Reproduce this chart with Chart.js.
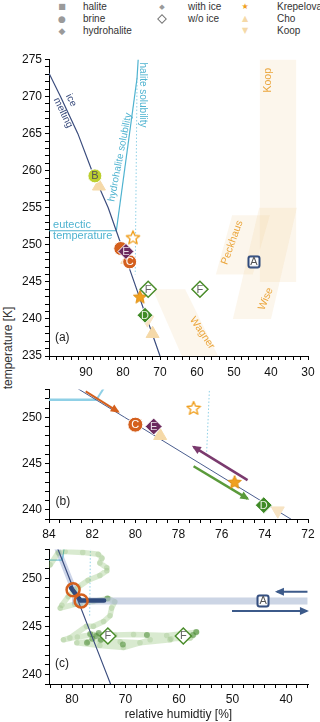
<!DOCTYPE html>
<html>
<head>
<meta charset="utf-8">
<script src="https://cdn.jsdelivr.net/npm/chart.js@4.4.0/dist/chart.umd.min.js"></script>
<style>
  body { margin: 0; background: #fff; }
  #wrap { position: relative; width: 320px; height: 722px; font-family: 'Liberation Sans', Arial, sans-serif; color: #333; overflow: hidden; }
  canvas { position: absolute; left: 0; }
  .lg { position: absolute; font-size: 10px; line-height: 12px; white-space: nowrap; transform: translateY(-50%); }
  .sym { position: absolute; width: 14px; text-align: center; line-height: 12px; transform: translate(-50%, -50%); font-family: 'DejaVu Sans', sans-serif; }
  .dia { position: absolute; width: 5px; height: 5px; border: 1.2px solid #777; background: #fff; transform: translate(-50%, -50%) rotate(45deg); }
  #ytitle { position: absolute; left: 8px; top: 348px; transform: translate(-50%, -50%) rotate(-90deg); font-size: 12px; white-space: nowrap; color: #333; }
</style>
</head>
<body>
<div id="wrap">
  <span class="sym" style="left:62px;top:7px;font-size:8px;color:#9a9a9a">■</span>
  <span class="lg" style="left:83px;top:7px">halite</span>
  <span class="sym" style="left:62px;top:19px;font-size:9px;color:#9a9a9a">●</span>
  <span class="lg" style="left:83px;top:19px">brine</span>
  <span class="sym" style="left:62px;top:31px;font-size:9px;color:#9a9a9a">◆</span>
  <span class="lg" style="left:83px;top:31px">hydrohalite</span>
  <span class="sym" style="left:162px;top:7px;font-size:7px;color:#9a9a9a">◆</span>
  <span class="lg" style="left:188px;top:7px">with ice</span>
  <div class="dia" style="left:162px;top:19px"></div>
  <span class="lg" style="left:188px;top:19px">w/o ice</span>
  <span class="sym" style="left:245px;top:7px;font-size:8px;color:#f0a020">★</span>
  <span class="lg" style="left:277px;top:7px">Krepelova</span>
  <span class="sym" style="left:245px;top:19px;font-size:8px;color:#f5d9a8">▲</span>
  <span class="lg" style="left:277px;top:19px">Cho</span>
  <span class="sym" style="left:245px;top:31px;font-size:8px;color:#f5d9a8">▼</span>
  <span class="lg" style="left:277px;top:31px">Koop</span>
  <div id="ytitle">temperature [K]</div>
  <canvas id="ca" width="320" height="330" style="top:50px"></canvas>
  <canvas id="cb" width="320" height="160" style="top:380px"></canvas>
  <canvas id="cc" width="320" height="182" style="top:540px"></canvas>
</div>
<script>
// phase lines (relative humidity %, temperature K)
const iceRH = [100, 96.9, 92.2, 88.4, 84.0, 80.5, 77.0, 73.5, 70.0];
const iceT = [273.15, 270, 265, 260, 255, 250, 245, 240, 235];
const hydroRH = [81.8, 76.2];
const hydroT = [251.9, 272.5];
const haliteRH = [76.2, 75.9];
const haliteT = [272.5, 275];
const haliteMetaRH = [76.2, 76.7];
const haliteMetaT = [272.5, 246];
const eutRH = [100, 81.8];
const eutT = [251.9, 251.9];

// literature regions
const koopRH = [43, 33.2, 33.2, 43, 43];
const koopT = [275, 275, 245, 245, 275];
const wiseRH = [50.3, 40, 33, 43.2, 50.3];
const wiseT = [240, 240, 255, 255, 240];
const peckRH = [54.9, 44.9, 40.3, 50.5, 54.9];
const peckT = [246, 246, 254, 254, 246];
const wagnerRH = [72, 63.2, 54.3, 64.1, 72];
const wagnerT = [244, 244, 235, 235, 244];

// literature points
const choRH = [86.5, 78.85, 72.0];
const choT = [257.9, 248, 238];
const koopPtRH = [73.4];
const koopPtT = [239.9];
const krepRH = [75.4];
const krepT = [243];
const krepNoIceRH = [77.3];
const krepNoIceT = [251];

// panel (a) experiments
const aB_RH = [87.6], aB_T = [259.3];
const aC_RH = [80.6, 78.2], aC_T = [249.5, 247.7];
const aE_RH = [79.2], aE_T = [249.1];
const aD_RH = [74.05], aD_T = [240.5];
const aF_RH = [73.2, 59.2], aF_T = [244, 244];
const aA_RH = [44.6], aA_T = [247.7];

// panel (b) experiments
const bC_RH = [80], bC_T = [249.2];
const bE_RH = [79.15], bE_T = [249];
const bD_RH = [74.05], bD_T = [240.5];
const bArrowC_RH = [82.3, 80.8], bArrowC_T = [252.8, 250.6];
const bArrowE_RH = [74.8, 77.3], bArrowE_T = [243.2, 246.8];
const bArrowD_RH = [77.3, 74.8], bArrowD_T = [244.7, 241.2];

// panel (c) trajectories
const trajRH = [84.1, 82.6, 81.3, 78.0, 75.1, 74.4, 74.8, 73.5, 73.5, 74.8, 77.0, 78.8, 80.7, 81.9, 82.2, 79.5, 76.0, 73.2, 72.0, 72.6, 72.9, 74.1, 76.0, 77.3, 80.4, 81.6, 79.0, 76.0, 72.0, 68.5, 62.3, 56.7, 57.9, 61.5, 65.4, 70.4, 74.8, 79.1, 77.0, 74.8, 71.0, 67.3, 61.7, 58.6];
const trajT = [251.4, 252.65, 252.8, 252.7, 252.5, 252.1, 251.6, 251.1, 250.8, 250.3, 249.8, 249.1, 248.1, 247.2, 246.9, 247.3, 247.6, 247.9, 247.55, 246.9, 246.1, 245.5, 245.0, 245.0, 243.8, 243.6, 243.9, 244.15, 244.1, 244.15, 244.05, 244.4, 243.8, 243.7, 243.6, 242.8, 243.0, 243.3, 243.4, 243.5, 243.4, 243.3, 243.6, 244.05];
const trajDenseRH = [75.5, 76.2, 75.0, 74.6, 76.6, 77.2, 57.4, 56.8, 73.4, 66.0, 70.5];
const trajDenseT = [244.0, 243.7, 244.3, 243.6, 244.2, 243.3, 244.1, 244.4, 247.9, 244.1, 243.1];
const cBandRH = [80, 36], cBandT = [247.65, 247.65];
const cNavyRH = [80.2, 78.4, 74], cNavyT = [249, 247.7, 247.7];
const cIceBandRH = [82.8, 78.5], cIceBandT = [253.2, 247.2];
const cRingRH = [79.8, 78.3], cRingT = [248.8, 247.65];
const cF_RH = [73.3, 59.2], cF_T = [244, 244];
const cA_RH = [44.3], cA_T = [247.65];
const cArrowL_RH = [36, 41.7], cArrowL_T = [248.6, 248.6];
const cArrowR_RH = [50.1, 36.1], cArrowR_T = [246.6, 246.6];

const FONT = "'Liberation Sans', Arial, sans-serif";
Chart.defaults.font.family = FONT;
Chart.defaults.color = '#111';

const NAVY = '#3b4d7e', CYAN = '#4fb3d0', ORANGE = '#d4601e', PURPLE = '#6b2a5e',
      GREEN = '#3f8a27', GOLD = '#f0a020', PALE = '#f5d9a8', REGION = 'rgba(240,200,140,0.17)', RTEXT = '#eba63d';

const pts = (xs, ys) => xs.map((v, i) => ({ x: v, y: ys[i] }));

function line(xs, ys, color, width, extra) {
  return Object.assign({ data: pts(xs, ys), showLine: true, borderColor: color, borderWidth: width,
    pointRadius: 0, fill: false, tension: 0 }, extra || {});
}
function region(xs, ys) {
  return { data: pts(xs, ys), showLine: true, borderWidth: 0, borderColor: 'rgba(0,0,0,0)',
    backgroundColor: REGION, fill: 'shape', pointRadius: 0 };
}
function mark(xs, ys, extra) {
  return Object.assign({ data: pts(xs, ys), showLine: false, pointRadius: 7, pointBorderWidth: 1,
    pointBorderColor: '#fff' }, extra);
}

function starImg(size, fill, stroke, lw) {
  const c = document.createElement('canvas');
  c.width = c.height = size;
  const g = c.getContext('2d');
  const cx = size / 2, cy = size / 2 + 0.6, R = size / 2 - 1, r = R * 0.45;
  g.beginPath();
  for (let i = 0; i < 10; i++) {
    const a = -Math.PI / 2 + i * Math.PI / 5, rr = i % 2 ? r : R;
    g.lineTo(cx + rr * Math.cos(a), cy + rr * Math.sin(a));
  }
  g.closePath();
  g.fillStyle = fill; g.fill();
  g.strokeStyle = stroke; g.lineWidth = lw; g.lineJoin = 'round'; g.stroke();
  return c;
}
function squareImg(size) {
  const c = document.createElement('canvas');
  c.width = c.height = size;
  const g = c.getContext('2d');
  g.beginPath();
  g.roundRect(1.5, 1.5, size - 3, size - 3, 2);
  g.fillStyle = '#fff'; g.fill();
  g.strokeStyle = '#2f4a7c'; g.lineWidth = 2; g.stroke();
  return c;
}
const STAR = starImg(16, GOLD, '#e09010', 1);
const STAR_OPEN = starImg(16, '#fff', GOLD, 1.4);
const SQUARE = squareImg(14);

function common() {
  return [
    mark(krepRH, krepT, { pointStyle: STAR }),
    mark(krepNoIceRH, krepNoIceT, { pointStyle: STAR_OPEN }),
    mark(choRH, choT, { pointStyle: 'triangle', pointRadius: 7.5, pointBackgroundColor: PALE, pointBorderColor: PALE }),
    mark(koopPtRH, koopPtT, { pointStyle: 'triangle', pointRotation: 180, pointRadius: 7.5, pointBackgroundColor: '#f7e3c3', pointBorderColor: '#f7e3c3' })
  ];
}

function notes(items) {
  return {
    id: 'notes',
    afterDatasetsDraw(chart) {
      const { ctx } = chart, sx = chart.scales.x, sy = chart.scales.y;
      ctx.save();
      chart.data.datasets.forEach((ds, i) => {
        if (!ds.arrow) return;
        const p = chart.getDatasetMeta(i).data;
        const a = p[p.length - 2], b = p[p.length - 1];
        const ang = Math.atan2(b.y - a.y, b.x - a.x);
        ctx.save();
        ctx.translate(b.x, b.y);
        ctx.rotate(ang);
        ctx.fillStyle = ds.borderColor;
        ctx.beginPath();
        ctx.moveTo(2, 0); ctx.lineTo(-7, -4); ctx.lineTo(-7, 4);
        ctx.closePath(); ctx.fill();
        ctx.restore();
      });
      chart.data.datasets.forEach((ds, i) => {
        if (!ds.tags) return;
        chart.getDatasetMeta(i).data.forEach((el, j) => {
          if (!ds.tags[j]) return;
          ctx.font = '11px ' + FONT;
          ctx.fillStyle = ds.tagColor;
          ctx.textAlign = 'center';
          ctx.textBaseline = 'middle';
          ctx.fillText(ds.tags[j], el.x, el.y + 0.5);
        });
      });
      items.forEach(n => {
        ctx.save();
        ctx.translate(sx.getPixelForValue(n.x), sy.getPixelForValue(n.y));
        ctx.rotate((n.rot || 0) * Math.PI / 180);
        ctx.font = (n.size || 11) + 'px ' + FONT;
        ctx.fillStyle = n.color || '#222';
        ctx.textAlign = n.align || 'center';
        ctx.textBaseline = 'middle';
        ctx.fillText(n.text, 0, 0);
        ctx.restore();
      });
      ctx.restore();
    }
  };
}

function scales(o) {
  return {
    x: {
      type: 'linear', reverse: true, min: o.xmin, max: o.xmax,
      border: { display: true, color: '#000', width: 1 },
      grid: { display: true, drawOnChartArea: false, drawTicks: true, tickLength: 4, tickColor: '#000' },
      ticks: { stepSize: o.xstep, autoSkip: false, minRotation: 0, maxRotation: 0, includeBounds: false,
        padding: o.xpad, color: '#111', font: { size: 12 }, callback: o.xlab },
      title: o.title ? { display: true, text: o.title, color: '#222', font: { size: 12 }, padding: { top: 2, bottom: 0 } } : { display: false },
      afterFit(s) { s.height = o.xh; s.paddingLeft = 0; s.paddingRight = 0; }
    },
    y: {
      type: 'linear', min: o.ymin, max: o.ymax,
      border: { display: true, color: '#000', width: 1 },
      grid: { display: true, drawOnChartArea: false, drawTicks: true, tickLength: 4, tickColor: '#000' },
      ticks: { stepSize: 1, autoSkip: false, padding: 3, color: '#111', font: { size: 12 },
        callback: v => (v % 5 === 0 ? String(v) : '') },
      afterFit(s) { s.width = 49; s.paddingTop = 0; s.paddingBottom = 0; }
    }
  };
}

function make(id, layers, sc, padTop, items) {
  new Chart(document.getElementById(id), {
    type: 'scatter',
    data: { datasets: layers.slice().reverse() },
    options: {
      responsive: false, animation: false, events: [],
      layout: { padding: { top: padTop, right: 12, left: 0, bottom: 0 } },
      plugins: { legend: { display: false }, tooltip: { enabled: false } },
      scales: sc
    },
    plugins: [notes(items)]
  });
}

const near = (v, k) => Math.abs(v / k - Math.round(v / k)) < 1e-6;

// ---------- panel (a)
make('ca', [
  region(koopRH, koopT), region(wiseRH, wiseT), region(peckRH, peckT), region(wagnerRH, wagnerT),
  line(eutRH, eutT, CYAN, 1.2),
  line(haliteMetaRH, haliteMetaT, '#8fd0e6', 1, { borderDash: [1.5, 2] }),
  line(hydroRH, hydroT, CYAN, 1.2),
  line(haliteRH, haliteT, CYAN, 1.2),
  line(iceRH, iceT, NAVY, 1.2),
  ...common(),
  mark(aB_RH, aB_T, { pointStyle: 'circle', pointBackgroundColor: '#bccf2e', tags: ['B'], tagColor: '#555' }),
  mark(aC_RH, aC_T, { pointStyle: 'circle', pointBackgroundColor: ORANGE, tags: ['', 'C'], tagColor: '#fff' }),
  mark(aE_RH, aE_T, { pointStyle: 'rectRot', pointRadius: 8, pointBackgroundColor: PURPLE, tags: ['E'], tagColor: '#e8dde6' }),
  mark(aD_RH, aD_T, { pointStyle: 'rectRot', pointRadius: 8, pointBackgroundColor: GREEN, tags: ['D'], tagColor: '#e6f0e0' }),
  mark(aF_RH, aF_T, { pointStyle: 'rectRot', pointRadius: 8, pointBackgroundColor: '#fff', pointBorderColor: '#4a8c2a', pointBorderWidth: 1.5, tags: ['F', 'F'], tagColor: '#666' }),
  mark(aA_RH, aA_T, { pointStyle: SQUARE, tags: ['A'], tagColor: '#555' })
], scales({
  xmin: 30, xmax: 100, xstep: 2, xpad: 5, xh: 24,
  xlab: v => (near(v, 10) && v !== 100 ? String(v) : ''),
  ymin: 235, ymax: 275
}), 6, [
  { text: 'ice', x: 94.05, y: 269.5, rot: 64, color: NAVY, size: 10 },
  { text: 'melting', x: 96.2, y: 267.8, rot: 64, color: NAVY, size: 10 },
  { text: 'hydrohalite solubility', x: 80.8, y: 261.8, rot: -79, color: CYAN, size: 10 },
  { text: 'halite solubility', x: 74.6, y: 270.2, rot: 90, color: CYAN, size: 10 },
  { text: 'eutectic', x: 98.9, y: 252.73, align: 'left', color: CYAN, size: 11 },
  { text: 'temperature', x: 98.9, y: 251.13, align: 'left', color: CYAN, size: 11 },
  { text: 'Koop', x: 40.8, y: 272.2, rot: -90, color: RTEXT, size: 10.5 },
  { text: 'Peckhaus', x: 50.5, y: 250.3, rot: -70, color: RTEXT, size: 10.5 },
  { text: 'Wise', x: 41.4, y: 242.7, rot: -67, color: RTEXT, size: 10.5 },
  { text: 'Wagner', x: 58.6, y: 238.1, rot: 56, color: RTEXT, size: 10.5 },
  { text: '(a)', x: 98.4, y: 237.5, align: 'left', size: 12 }
]);

// ---------- panel (b)
make('cb', [
  line(eutRH, eutT, '#8fd0e6', 2.5),
  line(haliteMetaRH, haliteMetaT, '#8fd0e6', 1, { borderDash: [1.5, 2] }),
  line(hydroRH, hydroT, '#8fd0e6', 2),
  line(iceRH, iceT, '#4a5d8e', 1),
  line(bArrowC_RH, bArrowC_T, ORANGE, 2, { arrow: true }),
  line(bArrowE_RH, bArrowE_T, '#7a3a6e', 2.5, { arrow: true }),
  line(bArrowD_RH, bArrowD_T, '#5a9a3a', 2.5, { arrow: true }),
  ...common(),
  mark(bC_RH, bC_T, { pointStyle: 'circle', pointRadius: 7.5, pointBackgroundColor: ORANGE, tags: ['C'], tagColor: '#fff' }),
  mark(bE_RH, bE_T, { pointStyle: 'rectRot', pointRadius: 8.5, pointBackgroundColor: PURPLE, tags: ['E'], tagColor: '#e8dde6' }),
  mark(bD_RH, bD_T, { pointStyle: 'rectRot', pointRadius: 8.5, pointBackgroundColor: GREEN, tags: ['D'], tagColor: '#e6f0e0' })
], scales({
  xmin: 72, xmax: 84, xstep: 0.5, xpad: 4, xh: 21,
  xlab: v => (near(v, 2) ? String(Math.round(v)) : ''),
  ymin: 239, ymax: 253
}), 3, [
  { text: '(b)', x: 83.7, y: 240.9, align: 'left', size: 12 }
]);

// ---------- panel (c)
make('cc', [
  line(cIceBandRH, cIceBandT, 'rgba(130,150,200,0.4)', 6, { borderCapStyle: 'round' }),
  line(eutRH, eutT, CYAN, 1),
  line(haliteMetaRH, haliteMetaT, '#8fd0e6', 1, { borderDash: [1.5, 2] }),
  line(hydroRH, hydroT, CYAN, 1),
  line(trajRH, trajT, 'rgba(130,185,100,0.3)', 5.5, { borderCapStyle: 'round', borderJoinStyle: 'round' }),
  mark(trajRH, trajT, { pointStyle: 'circle', pointRadius: 2.8, pointBorderWidth: 0, pointBackgroundColor: 'rgba(110,165,80,0.2)' }),
  mark(trajDenseRH, trajDenseT, { pointStyle: 'circle', pointRadius: 3, pointBorderWidth: 0, pointBackgroundColor: 'rgba(60,130,35,0.5)' }),
  line(cBandRH, cBandT, 'rgba(170,185,212,0.6)', 7),
  line(cNavyRH, cNavyT, '#2f4a7c', 4.5, { borderCapStyle: 'round' }),
  line(iceRH, iceT, NAVY, 1.2),
  line(cArrowL_RH, cArrowL_T, '#3c5a8a', 2, { arrow: true }),
  line(cArrowR_RH, cArrowR_T, '#3c5a8a', 2, { arrow: true }),
  mark(cRingRH, cRingT, { pointStyle: 'circle', pointRadius: 6.5, pointBackgroundColor: 'rgba(0,0,0,0)', pointBorderColor: ORANGE, pointBorderWidth: 2.5 }),
  mark(cF_RH, cF_T, { pointStyle: 'rectRot', pointRadius: 8, pointBackgroundColor: '#fff', pointBorderColor: '#4a8c2a', pointBorderWidth: 1.5, tags: ['F', 'F'], tagColor: '#666' }),
  mark(cA_RH, cA_T, { pointStyle: SQUARE, tags: ['A'], tagColor: '#555' })
], scales({
  xmin: 35.9, xmax: 84.3, xstep: 2, xpad: 4, xh: 38,
  xlab: v => (near(v, 10) ? String(v) : ''),
  title: 'relative humidtiy [%]',
  ymin: 239, ymax: 253
}), 7, [
  { text: '(c)', x: 83.2, y: 241.1, align: 'left', size: 12 }
]);
</script>
</body>
</html>
